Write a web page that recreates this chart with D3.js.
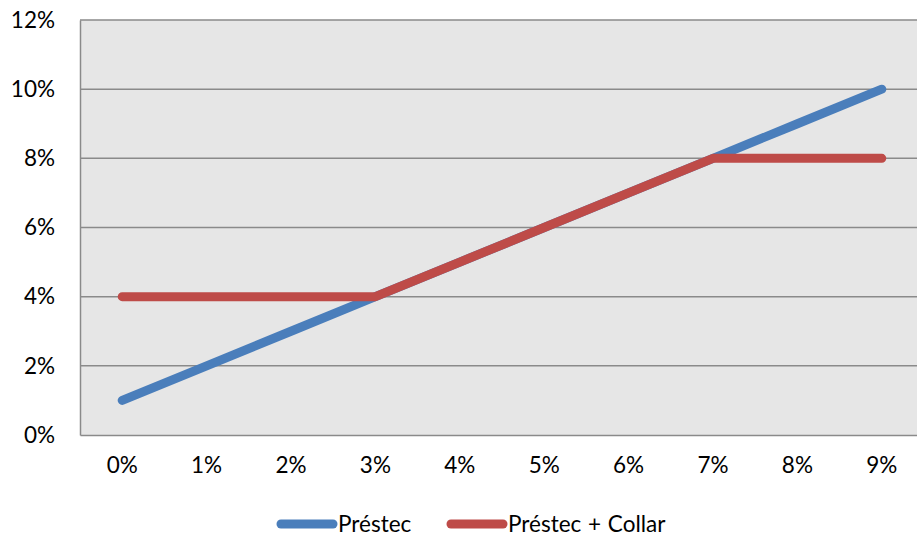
<!DOCTYPE html>
<html>
<head>
<meta charset="utf-8">
<script src="https://cdn.jsdelivr.net/npm/d3@7"></script>
<style>
  html, body { margin: 0; padding: 0; background: #fff; }
  svg { display: block; font-family: Lato, "Open Sans", sans-serif; }
</style>
</head>
<body>
<svg id="chart" width="917" height="539"></svg>
<script>
// Interest rate (x) and the resulting loan cost for each series
const categories = ["0%", "1%", "2%", "3%", "4%", "5%", "6%", "7%", "8%", "9%"];
const prestec = [1, 2, 3, 4, 5, 6, 7, 8, 9, 10];
const prestecCollar = [4, 4, 4, 4, 5, 6, 7, 8, 8, 8];
const yTicks = [0, 2, 4, 6, 8, 10, 12];
const seriesNames = ["Préstec", "Préstec + Collar"];
const seriesColors = ["#4a7ebb", "#be4b48"];

const svg = d3.select("#chart");
const plot = { left: 80, top: 20, bottom: 435, right: 924 };
const fontSize = 22.5;

const x = d3.scaleBand().domain(categories).range([plot.left, plot.right]);
const y = d3.scaleLinear().domain([0, 12]).range([plot.bottom, plot.top]);

// plot background
svg.append("rect")
  .attr("x", plot.left).attr("y", plot.top)
  .attr("width", plot.right - plot.left).attr("height", plot.bottom - plot.top)
  .attr("fill", "#e6e6e6");

// horizontal gridlines
svg.append("g").selectAll("line").data(yTicks.filter(d => d > 0)).join("line")
  .attr("x1", plot.left).attr("x2", plot.right)
  .attr("y1", d => y(d)).attr("y2", d => y(d))
  .attr("stroke", "#8a8a8a").attr("stroke-width", 1.5);

// axes
const yAxis = svg.append("g").attr("transform", `translate(${plot.left},0)`)
  .call(d3.axisLeft(y).tickValues(yTicks).tickFormat(d => d + "%").tickSize(0).tickPadding(25));
const xAxis = svg.append("g").attr("transform", `translate(0,${plot.bottom})`)
  .call(d3.axisBottom(x).tickSize(0).tickPadding(22));
[yAxis, xAxis].forEach(g => {
  g.select(".domain").attr("stroke", "#8a8a8a").attr("stroke-width", 1.5);
  g.selectAll("text").attr("font-size", fontSize).attr("fill", "#000")
    .attr("font-family", "Lato, 'Open Sans', sans-serif");
});

// series lines
const line = d3.line()
  .x((d, i) => x(categories[i]) + x.bandwidth() / 2)
  .y(d => y(d));
[prestec, prestecCollar].forEach((vals, i) => {
  svg.append("path")
    .datum(vals)
    .attr("d", line)
    .attr("fill", "none")
    .attr("stroke", seriesColors[i])
    .attr("stroke-width", 9)
    .attr("stroke-linecap", "round")
    .attr("stroke-linejoin", "round");
});

// legend
const legendX = [281, 451];
const legend = svg.append("g");
seriesNames.forEach((name, i) => {
  legend.append("line")
    .attr("x1", legendX[i]).attr("x2", legendX[i] + 52)
    .attr("y1", 524).attr("y2", 524)
    .attr("stroke", seriesColors[i]).attr("stroke-width", 9)
    .attr("stroke-linecap", "round");
  legend.append("text")
    .attr("x", legendX[i] + 57).attr("y", 532)
    .attr("font-size", fontSize).attr("fill", "#000")
    .attr("word-spacing", 1)
    .text(name);
});
</script>
</body>
</html>
